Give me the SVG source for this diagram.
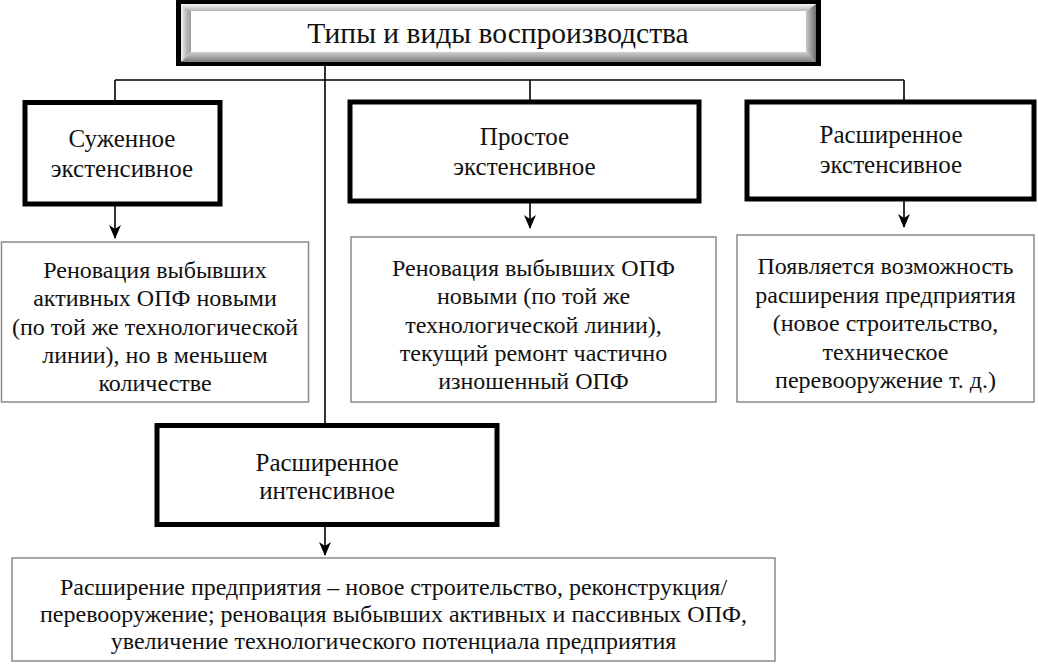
<svg xmlns="http://www.w3.org/2000/svg" width="1038" height="669" viewBox="0 0 1038 669">
<style>
text{font-family:"Liberation Serif","Times New Roman",serif;fill:#111;text-anchor:middle}
.t{font-size:29.5px}
.h{font-size:25px}
.d{font-size:24px}
.hb{fill:#fff;stroke:#000;stroke-width:5}
.db{fill:#fff;stroke:#8a8a8a;stroke-width:1.5}
.c{fill:none;stroke:#000;stroke-width:1.6}
</style>
<defs>
<marker id="ah" markerUnits="userSpaceOnUse" markerWidth="14" markerHeight="12" viewBox="0 0 14 12" refX="13" refY="6" orient="auto">
<path d="M0,0 L14,6 L0,12 L4,6 Z" fill="#000"/>
</marker>
<linearGradient id="gl" x1="0" x2="1" y1="0" y2="0"><stop offset="0" stop-color="#f4f4f4"/><stop offset="0.5" stop-color="#bdbdbd"/><stop offset="1" stop-color="#9a9a9a"/></linearGradient>
<linearGradient id="gt" x1="0" x2="0" y1="0" y2="1"><stop offset="0" stop-color="#f4f4f4"/><stop offset="1" stop-color="#b4b4b4"/></linearGradient>
<linearGradient id="gr" x1="0" x2="1" y1="0" y2="0"><stop offset="0" stop-color="#c8c8c8"/><stop offset="1" stop-color="#6e6e6e"/></linearGradient>
<linearGradient id="gb" x1="0" x2="0" y1="0" y2="1"><stop offset="0" stop-color="#d0d0d0"/><stop offset="1" stop-color="#7a7a7a"/></linearGradient>
</defs>

<g id="connectors">
<path class="c" d="M115,80 H904 M115,80 V102 M530,80 V102 M904,80 V102 M325,66 V425"/>
<path class="c" d="M115,206 V238" marker-end="url(#ah)"/>
<path class="c" d="M530,202 V228" marker-end="url(#ah)"/>
<path class="c" d="M904,200 V227" marker-end="url(#ah)"/>
<path class="c" d="M325,527 V555" marker-end="url(#ah)"/>
</g>

<g id="title">
<rect x="178.5" y="1.5" width="640" height="62" fill="#fff" stroke="#000" stroke-width="5"/>
<polygon points="181,4 191,11 191,52 181,62" fill="url(#gl)"/>
<polygon points="181,4 816,4 806,11 191,11" fill="url(#gt)"/>
<polygon points="816,4 816,62 806,52 806,11" fill="url(#gr)"/>
<polygon points="181,62 191,52 806,52 816,62" fill="url(#gb)"/>
<rect x="191" y="11" width="615" height="41" fill="#fff"/>
<text class="t" x="498" y="43">Типы и виды воспроизводства</text>
</g>

<g id="n-narrow">
<rect class="hb" x="25" y="102.5" width="195" height="101.5"/>
<text class="h" x="122" y="147">Суженное</text>
<text class="h" x="122" y="177">экстенсивное</text>
</g>
<g id="n-simple">
<rect class="hb" x="350" y="102" width="349" height="99"/>
<text class="h" x="524.5" y="145">Простое</text>
<text class="h" x="524.5" y="175">экстенсивное</text>
</g>
<g id="n-wide">
<rect class="hb" x="747" y="102" width="287" height="97"/>
<text class="h" x="891" y="143">Расширенное</text>
<text class="h" x="891" y="173">экстенсивное</text>
</g>
<g id="n-intensive">
<rect class="hb" x="157" y="425.5" width="340" height="99"/>
<text class="h" x="327" y="471">Расширенное</text>
<text class="h" x="327" y="499">интенсивное</text>
</g>

<g id="d-narrow">
<rect class="db" x="1.5" y="242" width="307" height="160"/>
<text class="d" x="155" y="278">Реновация выбывших</text>
<text class="d" x="155" y="306">активных ОПФ новыми</text>
<text class="d" x="155" y="335">(по той же технологической</text>
<text class="d" x="155" y="363">линии), но в меньшем</text>
<text class="d" x="155" y="391">количестве</text>
</g>
<g id="d-simple">
<rect class="db" x="351" y="237" width="365" height="165"/>
<text class="d" x="533.5" y="276">Реновация выбывших ОПФ</text>
<text class="d" x="533.5" y="304">новыми (по той же</text>
<text class="d" x="533.5" y="333">технологической линии),</text>
<text class="d" x="533.5" y="361">текущий ремонт частично</text>
<text class="d" x="533.5" y="389">изношенный ОПФ</text>
</g>
<g id="d-wide">
<rect class="db" x="737" y="235" width="297" height="167"/>
<text class="d" x="885.5" y="274">Появляется возможность</text>
<text class="d" x="885.5" y="303">расширения предприятия</text>
<text class="d" x="885.5" y="331">(новое строительство,</text>
<text class="d" x="885.5" y="360">техническое</text>
<text class="d" x="885.5" y="388">перевооружение т. д.)</text>
</g>
<g id="d-intensive">
<rect class="db" x="12" y="558" width="763" height="103"/>
<text class="d" x="393.5" y="595">Расширение предприятия – новое строительство, реконструкция/</text>
<text class="d" x="393.5" y="622">перевооружение; реновация выбывших активных и пассивных ОПФ,</text>
<text class="d" x="393.5" y="649">увеличение технологического потенциала предприятия</text>
</g>
</svg>
